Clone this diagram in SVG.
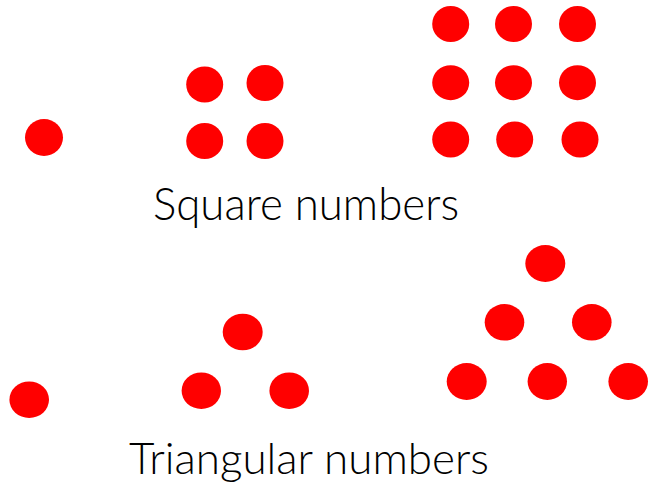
<svg xmlns="http://www.w3.org/2000/svg" width="652" height="486" viewBox="0 0 652 486">
<style>
.d{fill:#ff0000}
.t{font-family:Lato,"Open Sans","Liberation Sans",sans-serif;fill:#000;font-weight:300}
</style>
<rect width="652" height="486" fill="#fff"/>
<g id="square-1"><ellipse class="d" cx="44" cy="137.5" rx="19" ry="18.5"/></g>
<g id="square-4">
<ellipse class="d" cx="204.7" cy="84.5" rx="18.5" ry="18"/>
<ellipse class="d" cx="265" cy="83" rx="18.5" ry="18"/>
<ellipse class="d" cx="204.7" cy="141" rx="18.5" ry="18"/>
<ellipse class="d" cx="265" cy="141" rx="18.5" ry="18"/>
</g>
<g id="square-9">
<ellipse class="d" cx="450.7" cy="24" rx="18.5" ry="18"/>
<ellipse class="d" cx="513.5" cy="24" rx="18.5" ry="18"/>
<ellipse class="d" cx="577.5" cy="24" rx="18.5" ry="18"/>
<ellipse class="d" cx="450.7" cy="82.7" rx="18.5" ry="17.5"/>
<ellipse class="d" cx="513.5" cy="82.7" rx="18.5" ry="17.5"/>
<ellipse class="d" cx="577.5" cy="82.7" rx="18.5" ry="17.5"/>
<ellipse class="d" cx="450.7" cy="139.5" rx="18.5" ry="18"/>
<ellipse class="d" cx="514.7" cy="139.5" rx="18.5" ry="18"/>
<ellipse class="d" cx="580" cy="139.5" rx="18.5" ry="18"/>
</g>
<g id="label-square"><text class="t" x="153" y="220" font-size="46" textLength="306" lengthAdjust="spacingAndGlyphs">Square numbers</text></g>
<g id="tri-1"><ellipse class="d" cx="29.2" cy="399.7" rx="19.8" ry="18.3"/></g>
<g id="tri-3">
<ellipse class="d" cx="242.7" cy="332" rx="20" ry="18.3"/>
<ellipse class="d" cx="201.3" cy="390.7" rx="19.7" ry="18.3"/>
<ellipse class="d" cx="289.2" cy="390.7" rx="19.8" ry="18.3"/>
</g>
<g id="tri-6">
<ellipse class="d" cx="545.3" cy="263.5" rx="20" ry="18.5"/>
<ellipse class="d" cx="504.5" cy="322.3" rx="19.8" ry="18.3"/>
<ellipse class="d" cx="591.8" cy="322.3" rx="19.8" ry="18.3"/>
<ellipse class="d" cx="466.7" cy="381.5" rx="20" ry="18.5"/>
<ellipse class="d" cx="547.3" cy="381.5" rx="19.7" ry="18.5"/>
<ellipse class="d" cx="628.2" cy="381.5" rx="19.8" ry="18.5"/>
</g>
<g id="label-triangular"><text class="t" x="129" y="474" font-size="44" textLength="360" lengthAdjust="spacingAndGlyphs">Triangular numbers</text></g>
</svg>
